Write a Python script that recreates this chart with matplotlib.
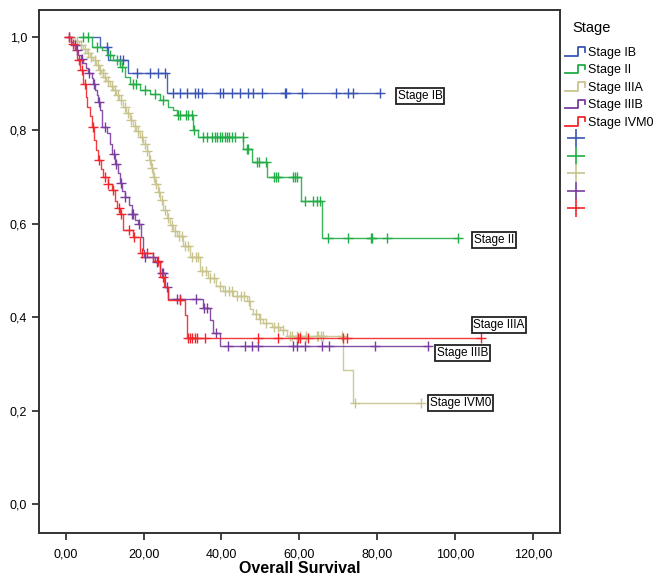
import numpy as np
import matplotlib.pyplot as plt
from matplotlib.lines import Line2D
from matplotlib.legend_handler import HandlerBase

plt.rcParams['font.family'] = ['Liberation Sans', 'DejaVu Sans']

# Kaplan-Meier data (time, survival at step, censored times)
stages = ["Stage IB", "Stage II", "Stage IIIA", "Stage IIIB", "Stage IVM0"]
colors = ["#3a55b4", "#22ad46", "#c9c48e", "#7a3c9e", "#f2262a"]

ib_start = 6.7
ib_t = [8.8, 10.9, 16.1, 25.9]
ib_s = [0.979, 0.951, 0.922, 0.881]
ib_cens = [10.6, 14.0, 14.8, 18.3, 21.7, 23.8, 25.5, 27.6, 29.4, 31.1, 33.2, 34.1,
           34.9, 39.6, 40.5, 42.6, 44.7, 46.9, 48.2, 50.3, 56.3, 56.5, 60.7, 69.5,
           72.5, 73.8, 80.6]

ii_start = 3.7
ii_t = [6.7, 9.3, 10.6, 12.3, 14.0, 15.3, 16.5, 19.1, 21.7, 24.2, 26.2, 27.6,
        28.5, 32.8, 34.1, 45.6, 47.7, 51.6, 60.4, 65.9]
ii_s = [0.979, 0.972, 0.961, 0.951, 0.936, 0.915, 0.900, 0.886, 0.879, 0.865,
        0.851, 0.844, 0.833, 0.801, 0.786, 0.760, 0.733, 0.701, 0.649, 0.569]
ii_cens = [4.5, 5.8, 8.0, 11.5, 13.2, 14.6, 17.3, 18.0, 20.5, 23.0, 25.0, 28.9,
           29.4, 30.9, 31.5, 32.4, 33.0, 35.3, 36.2, 37.5, 38.3, 38.9, 39.6, 40.2,
           40.9, 41.3, 41.9, 42.6, 43.5, 45.4, 46.5, 46.9, 49.2, 49.7, 51.4, 53.5,
           54.0, 54.6, 58.4, 58.8, 59.3, 61.4, 63.5, 64.6, 65.3, 67.4, 72.5, 78.3,
           78.5, 82.5, 100.7]

iiia_start = 1.6
iiia_t = [2.5, 3.5, 4.6, 5.4, 6.2, 7.1, 7.8, 8.5, 9.2, 9.7, 10.5, 11.4, 12.3,
          13.0, 13.8, 14.8, 15.6, 16.5, 17.3, 18.2, 19.1, 19.9, 20.8, 21.3, 21.9,
          22.5, 23.0, 23.6, 24.2, 25.1, 25.9, 26.7, 27.6, 28.5, 30.2, 31.9, 34.5,
          36.5, 38.5, 40.5, 43.0, 46.5, 47.3, 48.2, 49.5, 50.7, 53.0, 55.0, 56.7,
          71.2, 73.8]
iiia_s = [0.992, 0.983, 0.975, 0.966, 0.958, 0.950, 0.940, 0.930, 0.922, 0.915,
          0.905, 0.895, 0.886, 0.875, 0.865, 0.851, 0.838, 0.822, 0.810, 0.798,
          0.787, 0.772, 0.755, 0.737, 0.720, 0.701, 0.685, 0.668, 0.651, 0.630,
          0.612, 0.598, 0.585, 0.575, 0.552, 0.530, 0.500, 0.483, 0.467, 0.456,
          0.445, 0.435, 0.418, 0.408, 0.396, 0.387, 0.380, 0.372, 0.360, 0.287,
          0.217]
iiia_cens = [3.0, 4.0, 5.0, 5.8, 6.6, 7.5, 8.2, 8.9, 9.5, 10.0, 11.0, 11.8, 12.7,
             13.4, 14.3, 15.2, 16.0, 16.9, 17.7, 18.6, 19.5, 20.3, 21.0, 21.6,
             22.2, 22.8, 23.3, 23.9, 24.7, 25.5, 26.3, 27.2, 28.0, 29.0, 29.8, 30.6,
             31.5, 32.5, 33.5, 34.0, 35.0, 36.0, 37.0, 38.0, 39.5, 41.0, 41.8, 42.6,
             44.0, 45.0, 45.8, 47.0, 48.8, 50.0, 51.5, 53.5, 54.5, 55.8, 57.6, 58.0,
             59.3, 60.1, 61.8, 64.4, 64.8, 65.6, 66.0, 70.8, 74.2, 91.3]

iiib_start = 0.7
iiib_t = [1.5, 2.0, 2.7, 3.3, 4.0, 4.6, 5.2, 5.8, 6.7, 7.1, 7.6, 8.0, 8.4, 8.8,
          9.3, 10.6, 11.4, 12.0, 12.7, 13.4, 14.0, 14.6, 15.3, 16.2, 17.0, 17.8,
          18.5, 19.3, 19.8, 20.2, 22.9, 24.2, 25.5, 26.4, 35.3, 37.1, 37.9, 39.6]
iiib_s = [0.990, 0.983, 0.972, 0.961, 0.952, 0.944, 0.933, 0.922, 0.912, 0.900,
          0.886, 0.876, 0.860, 0.844, 0.808, 0.794, 0.772, 0.750, 0.729, 0.708,
          0.687, 0.670, 0.658, 0.640, 0.622, 0.608, 0.600, 0.572, 0.545, 0.530,
          0.519, 0.494, 0.465, 0.440, 0.419, 0.394, 0.366, 0.339]
iiib_cens = [1.0, 2.4, 3.0, 4.3, 6.0, 7.3, 8.6, 10.2, 12.4, 13.0, 14.3, 15.3,
             17.0, 17.4, 18.9, 20.5, 22.5, 23.4, 24.7, 25.1, 26.0, 28.5, 29.4,
             33.5, 35.5, 36.2, 38.5, 41.7, 46.0, 47.7, 49.4, 58.4, 59.3, 61.4,
             65.7, 67.6, 79.4, 93.0]

ivm0_start = 0.0
ivm0_t = [1.5, 2.4, 3.0, 3.8, 4.6, 5.2, 5.6, 6.2, 6.7, 7.3, 7.8, 8.2, 9.0, 9.7,
          10.8, 11.8, 12.6, 13.3, 14.0, 14.8, 17.4, 19.1, 22.5, 24.2, 25.2, 26.4,
          30.6, 31.1]
ivm0_s = [0.986, 0.972, 0.951, 0.930, 0.900, 0.872, 0.851, 0.830, 0.808, 0.780,
          0.758, 0.737, 0.718, 0.701, 0.686, 0.672, 0.650, 0.635, 0.622, 0.587,
          0.572, 0.537, 0.520, 0.487, 0.465, 0.437, 0.405, 0.355]
ivm0_cens = [0.8, 2.0, 3.4, 4.2, 5.0, 7.0, 8.6, 10.2, 11.0, 12.2, 13.6, 14.2,
             16.3, 17.6, 19.5, 21.0, 23.7, 25.0, 29.4, 31.4, 31.8, 32.4, 33.1,
             33.7, 35.7, 49.4, 54.6, 59.7, 60.1, 62.3, 71.2, 72.1, 106.5]

starts = [ib_start, ii_start, iiia_start, iiib_start, ivm0_start]
times = [ib_t, ii_t, iiia_t, iiib_t, ivm0_t]
survs = [ib_s, ii_s, iiia_s, iiib_s, ivm0_s]
censored = [ib_cens, ii_cens, iiia_cens, iiib_cens, ivm0_cens]

# curve end labels (as they appear in the chart)
label_text = ["Stage IB", "Stage II", "Stage IIIA", "Stage IIIB", "Stage IVM0"]
label_x = [85.2, 104.8, 104.6, 95.3, 93.5]
label_y = [0.874, 0.565, 0.383, 0.323, 0.216]

xticks = [0, 20, 40, 60, 80, 100, 120]
xtick_labels = ["0,00", "20,00", "40,00", "60,00", "80,00", "100,00", "120,00"]
yticks = [0.0, 0.2, 0.4, 0.6, 0.8, 1.0]
ytick_labels = ["0,0", "0,2", "0,4", "0,6", "0,8", "1,0"]

fig = plt.figure(figsize=(6.57, 5.77), dpi=100)
ax = fig.add_axes([0.0594, 0.0763, 0.7922, 0.9064])

for st, t, s, cens, c in zip(starts, times, survs, censored, colors):
    t = np.asarray(t)
    s = np.asarray(s)
    end = max(max(cens), t[-1])
    xs = np.r_[st, t, end]
    ys = np.r_[1.0, s, s[-1]]
    ax.step(xs, ys, where='post', color=c, lw=1.0, alpha=0.9)
    cens = np.asarray(cens)
    idx = np.searchsorted(t, cens, side='right')
    cy = np.r_[1.0, s][idx]
    ax.plot(cens, cy, ls='none', marker='+', ms=7.5, mew=1.0, color=c)

for txt, lx, ly in zip(label_text, label_x, label_y):
    ax.text(lx, ly, txt, fontsize=8.5, ha='left', va='center',
            bbox=dict(boxstyle='square,pad=0.15', fc='white', ec='#222222', lw=1.3))

ax.set_xlim(-6.8, 126.7)
ax.set_ylim(-0.062, 1.058)
ax.set_xticks(xticks)
ax.set_xticklabels(xtick_labels)
ax.set_yticks(yticks)
ax.set_yticklabels(ytick_labels)
ax.tick_params(direction='out', length=5, width=1.2, labelsize=9, color='#222222')
ax.tick_params(axis='x', pad=6)
for sp in ax.spines.values():
    sp.set_color('#333333')
    sp.set_linewidth(1.4)
ax.set_xlabel("Overall Survival", fontsize=11.5, fontweight='bold')
ax.xaxis.set_label_coords(0.5, -0.053)


class StepHandler(HandlerBase):
    def create_artists(self, legend, orig_handle, xdescent, ydescent, width, height,
                       fontsize, trans):
        x0, x1 = -xdescent, -xdescent + width
        xm = x0 + 0.6 * width
        yl = -ydescent + 0.1 * height
        yh = -ydescent + 0.9 * height
        ln = Line2D([x0, xm, xm, x1 - 1, x1 - 1], [yl, yl, yh, yh, yl + 0.4 * height],
                    color=orig_handle.get_color(), lw=1.3, transform=trans)
        return [ln]


step_handles = [Line2D([], [], color=c) for c in colors]
cross_handles = [Line2D([], [], color=c, ls='none', marker='+', ms=13, mew=1.2) for c in colors]
handler_map = {h: StepHandler() for h in step_handles}
leg = fig.legend(step_handles + cross_handles, stages + [""] * 5,
                 handler_map=handler_map, loc='upper left',
                 bbox_to_anchor=(0.852, 0.972), frameon=False, fontsize=9,
                 title="Stage", title_fontsize=10.5, handlelength=1.75,
                 handleheight=0.95, handletextpad=0.1, labelspacing=0.38,
                 borderaxespad=0.0, alignment='left')
leg._legend_box.sep = 8
leg.get_title().set_position((8, 0))

fig.savefig("out.png", dpi=100)
